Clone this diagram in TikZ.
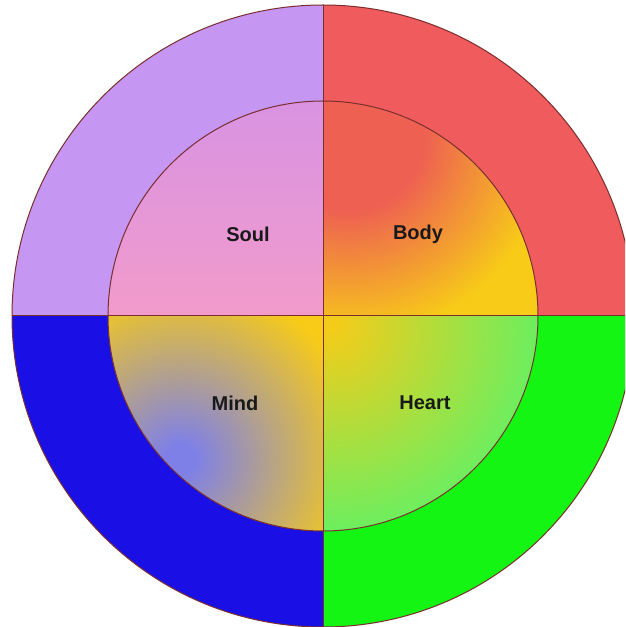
\documentclass[tikz,border=0pt]{standalone}
\usepackage{fontspec}
\setmainfont{Liberation Sans}
\definecolor{lav}{HTML}{C596F2}
\definecolor{redq}{HTML}{F05B5E}
\definecolor{blueq}{HTML}{1A10E6}
\definecolor{greenq}{HTML}{14F514}
\definecolor{linecol}{HTML}{7A2E2E}
\definecolor{yel}{HTML}{F7CB18}
\definecolor{soultop}{HTML}{D893E2}
\definecolor{soulbot}{HTML}{F29BCB}
\definecolor{bodyred}{HTML}{EE6052}
\definecolor{mindblue}{HTML}{7E80E8}
\definecolor{heartgreen}{HTML}{66F062}
\pgfdeclareradialshading{bodyshade}{\pgfpoint{0bp}{0bp}}{color(0bp)=(bodyred); color(9bp)=(bodyred); color(24bp)=(yel); color(50bp)=(yel)}
\pgfdeclareradialshading{mindshade}{\pgfpoint{0bp}{0bp}}{color(0bp)=(mindblue); color(2bp)=(mindblue); color(25bp)=(yel); color(50bp)=(yel)}
\begin{document}
\begin{tikzpicture}[x=1pt,y=1pt,
  lbl/.style={font=\bfseries\fontsize{20}{22}\selectfont, text=black!90, inner sep=0pt},
  edge/.style={draw=linecol, line width=1pt}]
\useasboundingbox (0,0) rectangle (625,627);
\clip (0,0) rectangle (625,627);
\fill[white] (0,0) rectangle (625,627);
\coordinate (O) at (323,311);
% outer quadrants
\fill[lav]    (O) -- ++(180:311) arc[start angle=180,end angle=90,radius=311] -- cycle;
\fill[redq]   (O) -- ++(90:311)  arc[start angle=90,end angle=0,radius=311] -- cycle;
\fill[greenq] (O) -- ++(0:311)   arc[start angle=0,end angle=-90,radius=311] -- cycle;
\fill[blueq]  (O) -- ++(-90:311) arc[start angle=-90,end angle=-180,radius=311] -- cycle;
% Soul
\begin{scope}
\clip (O) -- ++(180:215) arc[start angle=180,end angle=90,radius=215] -- cycle;
\shade[top color=soultop, bottom color=soulbot] (108,311) rectangle (323,526);
\end{scope}
% Body
\begin{scope}
\clip (O) -- ++(90:215) arc[start angle=90,end angle=0,radius=215] -- cycle;
\fill[yel] (323,311) rectangle (540,526);
\shade[shading=bodyshade] (348,492) circle (210);
\end{scope}
% Mind
\begin{scope}
\clip (O) -- ++(180:215) arc[start angle=180,end angle=270,radius=215] -- cycle;
\fill[yel] (108,96) rectangle (323,311);
\shade[shading=mindshade] (180,168) circle (180);
\end{scope}
% Heart
\begin{scope}
\clip (O) -- ++(0:215) arc[start angle=0,end angle=-90,radius=215] -- cycle;
\fill[heartgreen] (323,96) rectangle (540,311);
\shade[inner color=yel, outer color=heartgreen] (332,302) circle (215);
\end{scope}
% outlines
\coordinate (otop) at (323,622);
\coordinate (obot) at (323,0);
\coordinate (oleft) at (12,311);
\coordinate (oright) at (634,311);
\draw[edge] (O) circle (311);
\draw[edge] (O) circle (215);
\draw[edge] (otop) -- (obot);
\draw[edge] (oleft) -- (oright);
% labels
\node[lbl] (soul) at (248,393) {Soul};
\node[lbl] (body) at (418,393) {Body};
\node[lbl] (mind) at (235,224) {Mind};
\node[lbl] (heart) at (425,224) {Heart};
\end{tikzpicture}
\end{document}
